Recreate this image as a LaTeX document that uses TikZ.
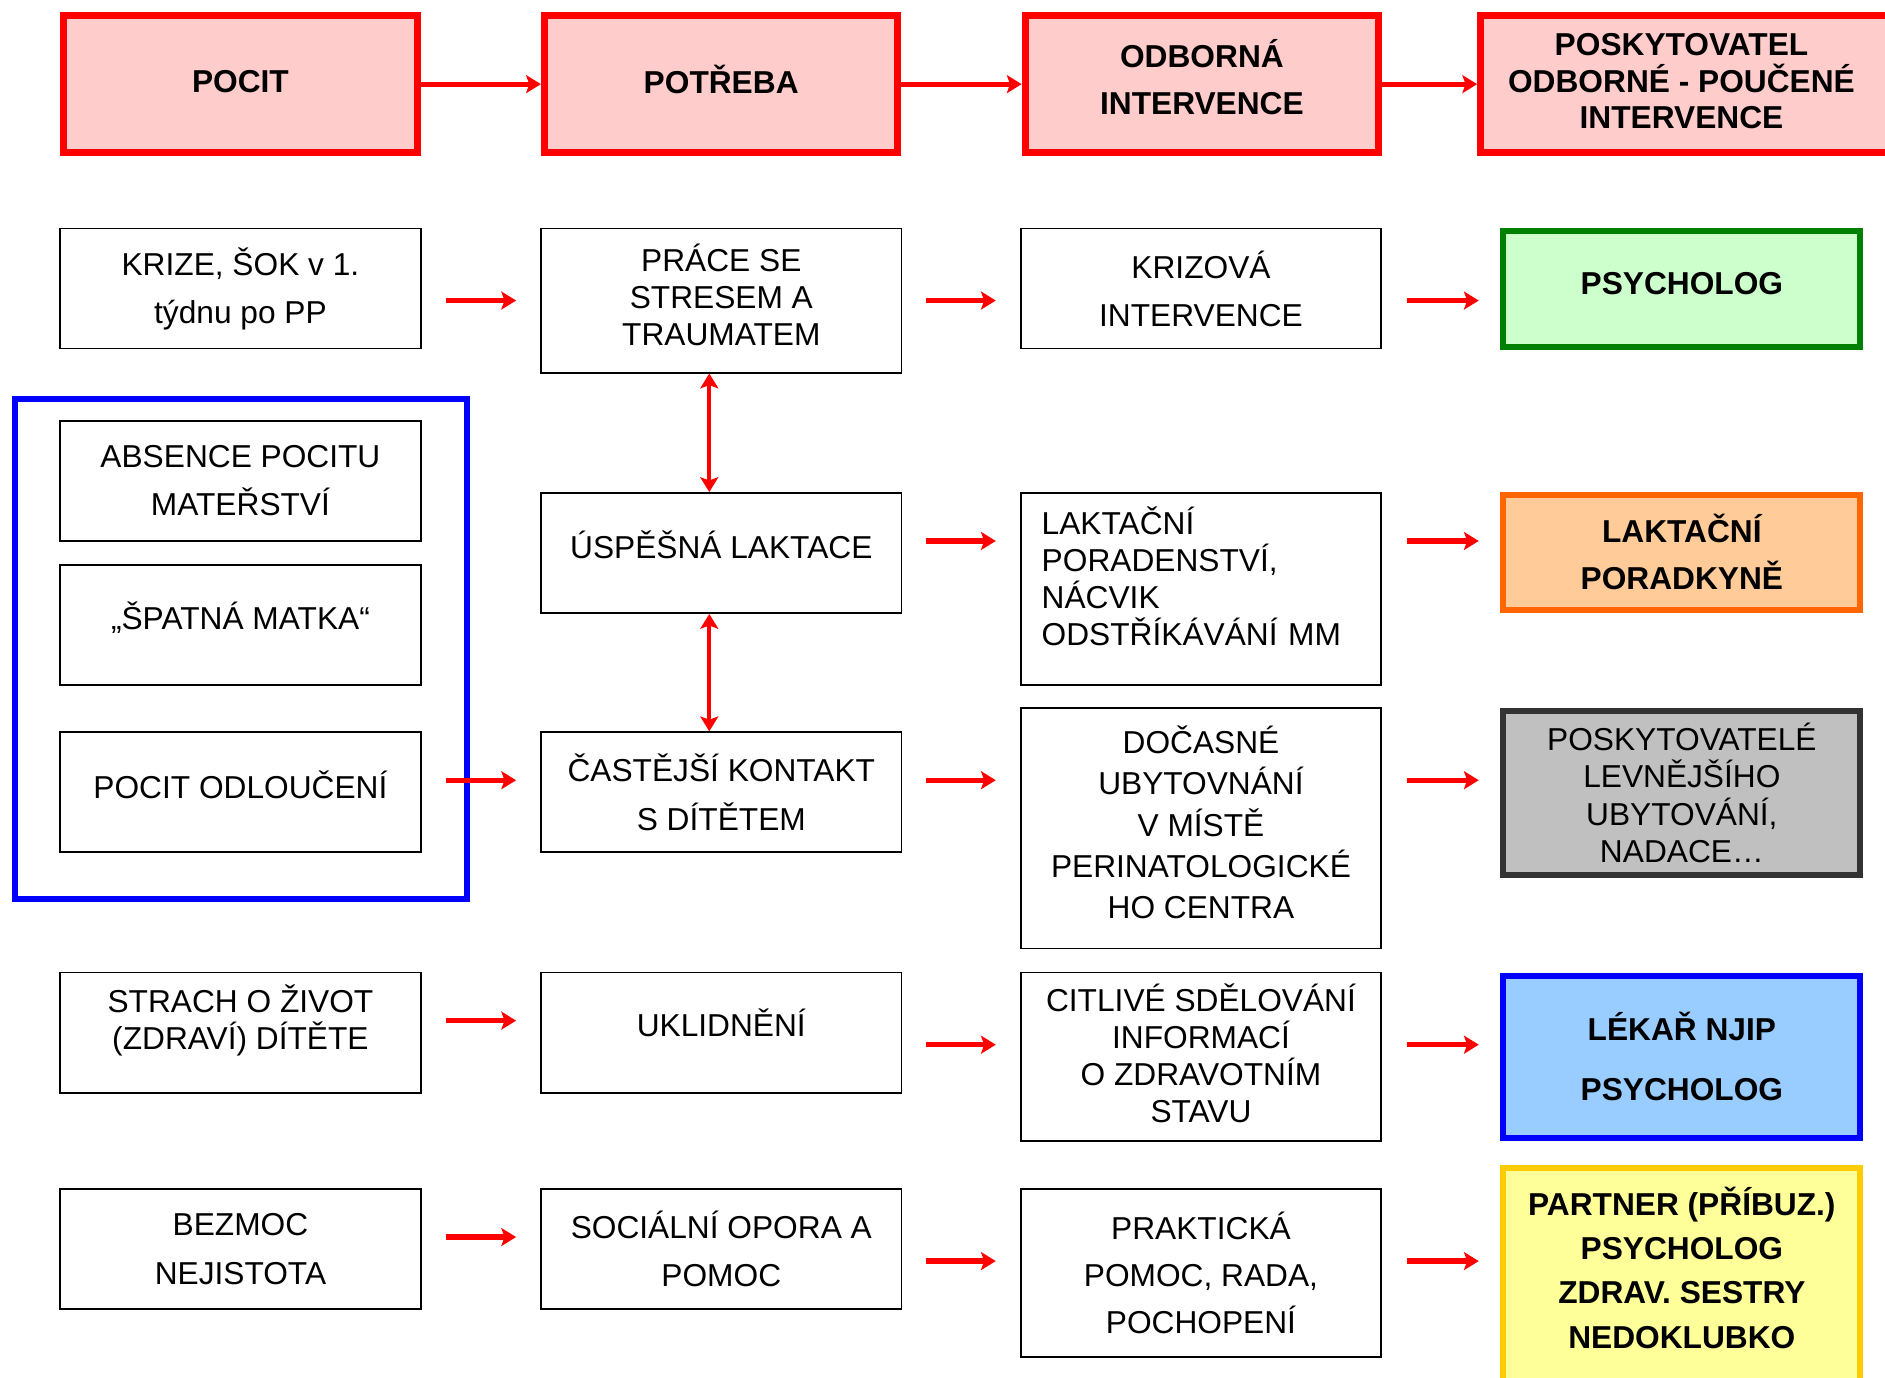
\documentclass[tikz,border=0pt]{standalone}
\usepackage{fontspec}
\setmainfont{Liberation Sans}
\usetikzlibrary{arrows.meta, positioning, calc}
\definecolor{hdred}{RGB}{255, 0, 0}
\definecolor{hdpink}{RGB}{255, 204, 204}
\definecolor{psgreen}{RGB}{0, 128, 0}
\definecolor{psgreenfill}{RGB}{204, 255, 204}
\definecolor{lkorange}{RGB}{255, 102, 0}
\definecolor{lkorangefill}{RGB}{255, 204, 153}
\definecolor{ubgray}{RGB}{51, 51, 51}
\definecolor{ubgrayfill}{RGB}{192, 192, 192}
\definecolor{njblue}{RGB}{0, 0, 255}
\definecolor{njbluefill}{RGB}{153, 204, 255}
\definecolor{ptyellow}{RGB}{255, 204, 0}
\definecolor{ptyellowfill}{RGB}{255, 255, 153}
\newcommand{\dropby}[1]{\rule[-#1]{0pt}{#1}}

\begin{document}
\begin{tikzpicture}[
        x=0.02cm, y=-0.02cm,
        head/.style={draw=hdred, fill=hdpink, line width=3.4pt, minimum width=5.88cm,
                     minimum height=2.28cm, align=center,
                     font=\bfseries\fontsize{15}{22.2}\selectfont},
        box/.style={draw, line width=0.8pt, minimum width=6cm, minimum height=2cm,
                    align=center, inner sep=2pt, font=\fontsize{15}{22.8}\selectfont},
        tight/.style={font=\fontsize{15}{17.5}\selectfont},
        who/.style={line width=2.8pt, minimum width=5.94cm, align=center,
                    font=\bfseries\fontsize{15}{22.2}\selectfont},
        >={Stealth[length=7pt, width=8.5pt, inset=1.5pt]},
        arrow/.style={->, draw=hdred, line width=2.5pt},
        gap/.style={shorten <=0.4cm, shorten >=0.4cm},
    ]
        \path[use as bounding box, clip] (0,0) rectangle (1568,1146);

        \node[head] (pocit) at (200,70) {POCIT\dropby{0.08cm}};
        \node[head] (potreba) [right=2cm of pocit] {POTŘEBA\dropby{0.16cm}};
        \node[head] (odborna) [right=2cm of potreba] {ODBORNÁ\\INTERVENCE\dropby{0.24cm}};
        \node[head, minimum width=6.9cm, font=\bfseries\fontsize{15}{17.4}\selectfont]
            (poskyt) [right=1.58cm of odborna] {POSKYTOVATEL\kern0.22cm\\ODBORNÉ - POUČENÉ\kern0.22cm\\INTERVENCE\kern0.22cm\dropby{0.1cm}};

        \node[box] (krize) at (200,240) {KRIZE, ŠOK v 1.\\týdnu po PP};
        \node[box, tight, minimum height=2.4cm] (prace) at (600,250) {PRÁCE SE\\STRESEM A\\TRAUMATEM\dropby{0.2cm}};
        \node[box] (krizova) at (999,240) {KRIZOVÁ\\INTERVENCE};
        \node[who, draw=psgreen, fill=psgreenfill, minimum height=1.92cm] (psych) at (1399,240.5) {PSYCHOLOG\dropby{0.2cm}};

        \node[draw=njblue, line width=2.8pt, minimum width=7.52cm, minimum height=8.32cm] (group) at (200.5,539.5) {};
        \node[box] (absence) at (200,400) {ABSENCE POCITU\\MATEŘSTVÍ};
        \node[box] (spatna) at (200,520) {„ŠPATNÁ MATKA“\dropby{0.3cm}};
        \node[box] (odlouceni) at (200,659) {POCIT ODLOUČENÍ\dropby{0.24cm}};

        \node[box] (uspesna) at (600,460) {ÚSPĚŠNÁ LAKTACE\dropby{0.28cm}};
        \node[box] (castejsi) at (600,659) {ČASTĚJŠÍ KONTAKT\\S DÍTĚTEM};
        \node[box, tight, minimum height=3.2cm, text width=5.3cm, align=left, inner xsep=0.35cm]
            (poradenstvi) at (999,490) {LAKTAČNÍ\\PORADENSTVÍ,\\NÁCVIK\\ODSTŘÍKÁVÁNÍ MM\dropby{0.44cm}};
        \node[who, draw=lkorange, fill=lkorangefill, minimum height=1.92cm] (poradkyne) at (1399,459.5) {LAKTAČNÍ\\PORADKYNĚ};

        \node[box, minimum height=4cm, font=\fontsize{15}{19.6}\selectfont] (docasne) at (999,689)
            {DOČASNÉ\\UBYTOVNÁNÍ\\V MÍSTĚ\\PERINATOLOGICKÉ\\HO CENTRA\dropby{0.2cm}};
        \node[who, draw=ubgray, fill=ubgrayfill, minimum height=2.72cm, font=\fontsize{15}{17.6}\selectfont]
            (levnejsi) at (1399,659.5) {POSKYTOVATELÉ\\LEVNĚJŠÍHO\\UBYTOVÁNÍ,\\NADACE…};

        \node[box, tight] (strach) at (200,859) {STRACH O ŽIVOT\\(ZDRAVÍ) DÍTĚTE\dropby{0.53cm}};
        \node[box] (uklidneni) at (600,859) {UKLIDNĚNÍ\dropby{0.32cm}};
        \node[box, tight, minimum height=2.8cm] (citlive) at (999,879) {CITLIVÉ SDĚLOVÁNÍ\\INFORMACÍ\\O ZDRAVOTNÍM\\STAVU\dropby{0.12cm}};
        \node[who, draw=njblue, fill=njbluefill, minimum height=2.7cm, font=\bfseries\fontsize{15}{28.5}\selectfont]
            (lekar) at (1399,879) {LÉKAŘ NJIP\\PSYCHOLOG};

        \node[box] (bezmoc) at (200,1039) {BEZMOC\\NEJISTOTA};
        \node[box] (socialni) at (600,1039) {SOCIÁLNÍ OPORA A\\POMOC};
        \node[box, minimum height=2.8cm, font=\fontsize{15}{22.2}\selectfont] (prakticka) at (999,1059) {PRAKTICKÁ\\POMOC, RADA,\\POCHOPENÍ};
        \node[who, draw=ptyellow, fill=ptyellowfill, minimum height=3.77cm, font=\bfseries\fontsize{15}{20.9}\selectfont]
            (partner) at (1399,1065.75) {PARTNER (PŘÍBUZ.)\\PSYCHOLOG\\ZDRAV. SESTRY\\NEDOKLUBKO\dropby{0.45cm}};

        \coordinate (r1) at (0,250);
        \coordinate (r2) at (0,450);
        \coordinate (r3) at (0,649);
        \coordinate (r4a) at (0,849);
        \coordinate (r4b) at (0,869);
        \coordinate (r5a) at (0,1029);
        \coordinate (r5b) at (0,1049);

        \draw[arrow] (pocit) -- (potreba);
        \draw[arrow] (potreba) -- (odborna);
        \draw[arrow] (odborna) -- (poskyt);

        \draw[arrow, gap] (krize.east |- r1) -- (prace.west |- r1);
        \draw[arrow, gap] (prace.east |- r1) -- (krizova.west |- r1);
        \draw[arrow, shorten <=0.42cm, shorten >=0.36cm] (krizova.east |- r1) -- (psych.west |- r1);

        \draw[arrow, gap] (uspesna.east |- r2) -- (poradenstvi.west |- r2);
        \draw[arrow, shorten <=0.42cm, shorten >=0.36cm] (poradenstvi.east |- r2) -- (poradkyne.west |- r2);

        \draw[arrow, gap] (odlouceni.east |- r3) -- (castejsi.west |- r3);
        \draw[arrow, gap] (castejsi.east |- r3) -- (docasne.west |- r3);
        \draw[arrow, shorten <=0.42cm, shorten >=0.36cm] (docasne.east |- r3) -- (levnejsi.west |- r3);

        \draw[arrow, gap] (strach.east |- r4a) -- (uklidneni.west |- r4a);
        \draw[arrow, gap] (uklidneni.east |- r4b) -- (citlive.west |- r4b);
        \draw[arrow, shorten <=0.42cm, shorten >=0.36cm] (citlive.east |- r4b) -- (lekar.west |- r4b);

        \draw[arrow, gap] (bezmoc.east |- r5a) -- (socialni.west |- r5a);
        \draw[arrow, gap] (socialni.east |- r5b) -- (prakticka.west |- r5b);
        \draw[arrow, shorten <=0.42cm, shorten >=0.36cm] (prakticka.east |- r5b) -- (partner.west |- r5b);

        \draw[arrow, <->, line width=2pt] ([xshift=-0.2cm]prace.south) -- ([xshift=-0.2cm]uspesna.north);
        \draw[arrow, <->, line width=2pt] ([xshift=-0.2cm]uspesna.south) -- ([xshift=-0.2cm]castejsi.north);
    \end{tikzpicture}
\end{document}
